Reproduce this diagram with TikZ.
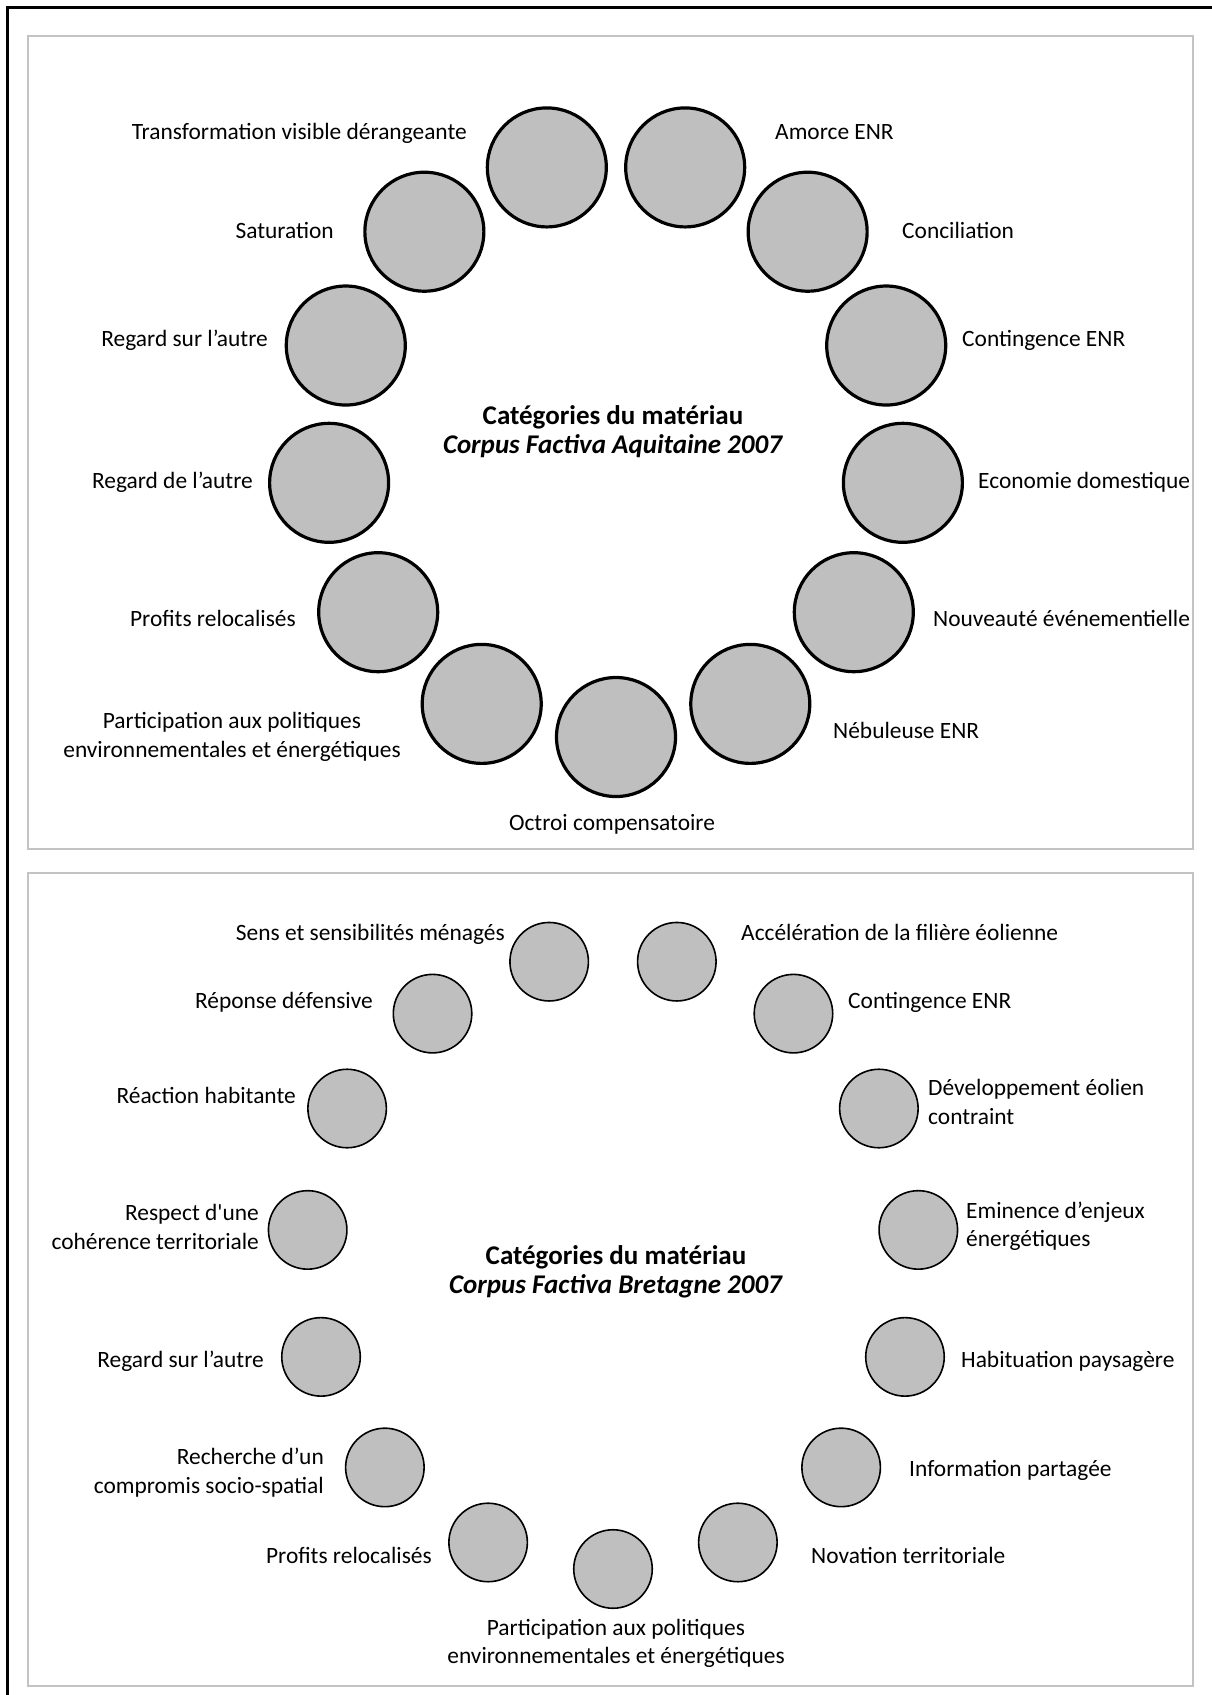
\documentclass[tikz,border=0pt]{standalone}
\usepackage{fontspec}
\setmainfont{Carlito}
\definecolor{circfill}{RGB}{191,191,191}
\definecolor{panelgray}{RGB}{195,195,195}
\begin{document}
\begin{tikzpicture}[x=1pt,y=-1pt]
\tikzset{
  bigc/.style={circle, draw=black, line width=3.2pt, fill=circfill, minimum size=119pt, inner sep=0pt},
  smallc/.style={circle, draw=black, line width=1.6pt, fill=circfill, minimum size=78.5pt, inner sep=0pt},
  lbl/.style={font=\fontsize{23.4}{28.5}\selectfont, inner sep=0pt},
  ttl/.style={font=\fontsize{27}{29}\selectfont\bfseries, align=center, inner sep=0pt},
  panel/.style={draw=panelgray, line width=1.5pt}
}
\useasboundingbox[fill=white] (0,0) rectangle (1212,1695);
% outer frame (top and left visible)
\draw[line width=2.6pt] (7.5,1695) -- (7.5,7.5) -- (1212,7.5);
% panels
\draw[panel] (28,36) rectangle (1193,849);
\draw[panel] (28,873) rectangle (1193,1686);

% ---------- panel 1 ----------
\foreach \nm/\ang in {aOct/270, aPart/242.31, aProf/214.62, aRde/186.92, aRsur/159.23,
  aSat/131.54, aTrans/103.85, aAmo/76.15, aConc/48.46, aCont/20.77, aEco/353.08,
  aNouv/325.38, aNeb/297.69}
  \node[bigc] (\nm) at ({616+289*cos(\ang)},{448-289*sin(\ang)}) {};

\node[ttl] (aTitle) at (613,432) {Catégories du matériau\\\textit{Corpus Factiva Aquitaine 2007}};

\node[lbl, anchor=mid east] (tTrans) at (467,137.5) {Transformation visible dérangeante};
\node[lbl, anchor=mid west] (tAmo) at (775,137.5) {Amorce ENR};
\node[lbl, anchor=mid east] (tSat) at (334,236.5) {Saturation};
\node[lbl, anchor=mid west] (tConc) at (902,236.5) {Conciliation};
\node[lbl, anchor=mid east] (tRsur) at (268,344.5) {Regard sur l’autre};
\node[lbl, anchor=mid west] (tCont) at (962,344.5) {Contingence ENR};
\node[lbl, anchor=mid east] (tRde) at (253,486.5) {Regard de l’autre};
\node[lbl, anchor=mid west] (tEco) at (978,486.5) {Economie domestique};
\node[lbl, anchor=mid east] (tProf) at (296,624.5) {Profits relocalisés};
\node[lbl, anchor=mid west] (tNouv) at (933,624.5) {Nouveauté événementielle};
\node[lbl, anchor=mid west] (tNeb) at (833,736.5) {Nébuleuse ENR};
\node[lbl, anchor=mid] (tOct) at (612,828.5) {Octroi compensatoire};
\node[lbl, align=center] (tPart) at (232,737) {Participation aux politiques\\environnementales et énergétiques};

% ---------- panel 2 ----------
\foreach \nm/\ang in {bPart/270, bProf/246, bRech/222, bRsur/198, bResp/174, bReac/150,
  bRep/126, bSens/102, bAcc/78, bCont/54, bDev/30, bEmi/6, bHab/342, bInfo/318, bNov/294}
  \node[smallc] (\nm) at ({613+307*cos(\ang)},{1262-307*sin(\ang)}) {};

\node[ttl] (bTitle) at (616,1272) {Catégories du matériau\\\textit{Corpus Factiva Bretagne 2007}};

\node[lbl, anchor=mid east] (uSens) at (505,938.5) {Sens et sensibilités ménagés};
\node[lbl, anchor=mid west] (uAcc) at (741,938.5) {Accélération de la filière éolienne};
\node[lbl, anchor=mid east] (uRep) at (373,1006.5) {Réponse défensive};
\node[lbl, anchor=mid west] (uCont) at (848,1006.5) {Contingence ENR};
\node[lbl, anchor=mid east] (uReac) at (296,1101.5) {Réaction habitante};
\node[lbl, anchor=west, align=left] (uDev) at (928,1102) {Développement éolien\\contraint};
\node[lbl, anchor=east, align=right] (uResp) at (259,1227) {Respect d\textquotesingle une\\cohérence territoriale};
\node[lbl, anchor=west, align=left] (uEmi) at (966,1226) {Eminence d’enjeux\\énergétiques};
\node[lbl, anchor=mid east] (uRsur) at (264,1365) {Regard sur l’autre};
\node[lbl, anchor=mid west] (uHab) at (961,1365) {Habituation paysagère};
\node[lbl, anchor=east, align=right] (uRech) at (324,1472.5) {Recherche d’un\\compromis socio-spatial};
\node[lbl, anchor=mid west] (uInfo) at (909,1474.5) {Information partagée};
\node[lbl, anchor=mid east] (uProf) at (432,1561.5) {Profits relocalisés};
\node[lbl, anchor=mid west] (uNov) at (811,1561.5) {Novation territoriale};
\node[lbl, align=center] (uPart) at (616,1643.5) {Participation aux politiques\\environnementales et énergétiques};
\end{tikzpicture}
\end{document}
